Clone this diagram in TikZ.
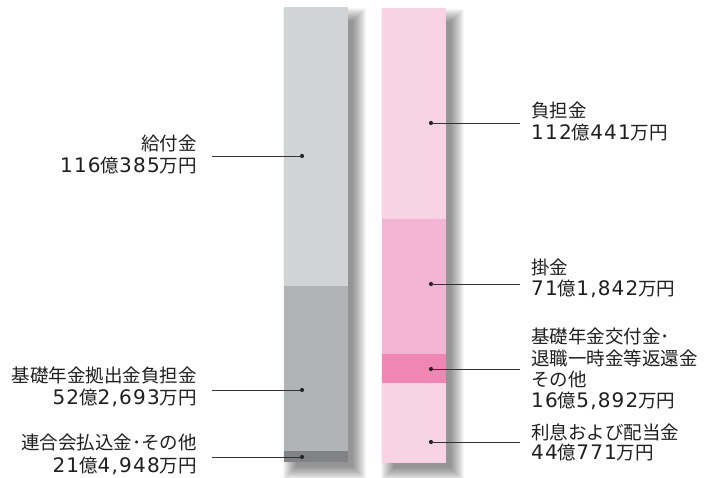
\documentclass[tikz,border=0pt]{standalone}
\usepackage{fontspec}
\newfontfamily\jp{Noto Sans CJK JP}
\newfontfamily\jpd[LetterSpace=6]{DejaVu Sans}
\newcommand\dg[1]{{\jpd\fontsize{20}{22}\selectfont #1}}
\definecolor{gA}{RGB}{209,211,212}
\definecolor{gB}{RGB}{178,179,182}
\definecolor{gC}{RGB}{128,130,133}
\definecolor{pA}{RGB}{248,211,228}
\definecolor{pB}{RGB}{244,180,211}
\definecolor{pC}{RGB}{240,134,180}
\begin{document}
\begin{tikzpicture}[x=1pt,y=-1pt,
  seg/.style={fill=#1, draw=none, inner sep=0, anchor=north west, minimum width=64pt},
  dotn/.style={circle, fill=black!85, inner sep=0, minimum size=4.2pt},
  lead/.style={draw=black!80, line width=0.8pt},
  lt/.style={anchor=base east, inner sep=0, font=\jp\fontsize{18.5}{22}\selectfont, text=black!88},
  rt/.style={anchor=base west, inner sep=0, font=\jp\fontsize{18.5}{22}\selectfont, text=black!88},
  shl/.style={fill=black, opacity=0.035}]
\useasboundingbox (0,0) rectangle (712,477);
\fill[white] (0,0) rectangle (712,477);
% soft shadows
\foreach \i in {0,...,13}{
  \fill[shl] (284+12-\i,7+14-\i) rectangle (348+5+\i,462+5+\i);
  \fill[shl] (382+12-\i,8+14-\i) rectangle (446+5+\i,463+5+\i);
}
% left bar
\node[seg=gA, minimum height=279pt] (l1) at (284,7) {};
\node[seg=gB, minimum height=165pt] (l2) at (284,286) {};
\node[seg=gC, minimum height=11pt] (l3) at (284,451) {};
% right bar
\node[seg=pA, minimum height=211pt] (r1) at (382,8) {};
\node[seg=pB, minimum height=135pt] (r2) at (382,219) {};
\node[seg=pC, minimum height=29pt] (r3) at (382,354) {};
\node[seg=pA, minimum height=80pt] (r4) at (382,383) {};
% dots
\node[dotn] (d1) at (302,156) {};
\node[dotn] (d2) at (302,390) {};
\node[dotn] (d3) at (302,457) {};
\node[dotn] (e1) at (431,123) {};
\node[dotn] (e2) at (431,284) {};
\node[dotn] (e3) at (431,369) {};
\node[dotn] (e4) at (431,442) {};
% leader ends
\coordinate (c1) at (212,156);
\coordinate (c2) at (212,390);
\coordinate (c3) at (212,457);
\coordinate (f1) at (520,123);
\coordinate (f2) at (520,284);
\coordinate (f3) at (520,369);
\coordinate (f4) at (520,442);
\foreach \a/\b in {d1/c1,d2/c2,d3/c3,e1/f1,e2/f2,e3/f3,e4/f4}
  \draw[lead] (\a.center) -- (\b);
% left labels
\node[lt] (t1a) at (197,150) {給付金};
\node[lt] (t1b) at (197,172) {\dg{116}億\dg{385}万円};
\node[lt] (t2a) at (197,382) {基礎年金拠出金負担金};
\node[lt] (t2b) at (197,404) {\dg{52}億\dg{2,693}万円};
\node[lt] (t3a) at (197,449) {連合会払込金･その他};
\node[lt] (t3b) at (197,472) {\dg{21}億\dg{4,948}万円};
% right labels
\node[rt] (u1a) at (531,117) {負担金};
\node[rt] (u1b) at (531,139) {\dg{112}億\dg{441}万円};
\node[rt] (u2a) at (531,274) {掛金};
\node[rt] (u2b) at (531,295) {\dg{71}億\dg{1,842}万円};
\node[rt] (u3a) at (531,343) {基礎年金交付金･};
\node[rt] (u3b) at (531,365) {退職一時金等返還金};
\node[rt] (u3c) at (531,386) {その他};
\node[rt] (u3d) at (531,407) {\dg{16}億\dg{5,892}万円};
\node[rt] (u4a) at (531,439) {利息および配当金};
\node[rt] (u4b) at (531,459) {\dg{44}億\dg{771}万円};
\end{tikzpicture}
\end{document}
